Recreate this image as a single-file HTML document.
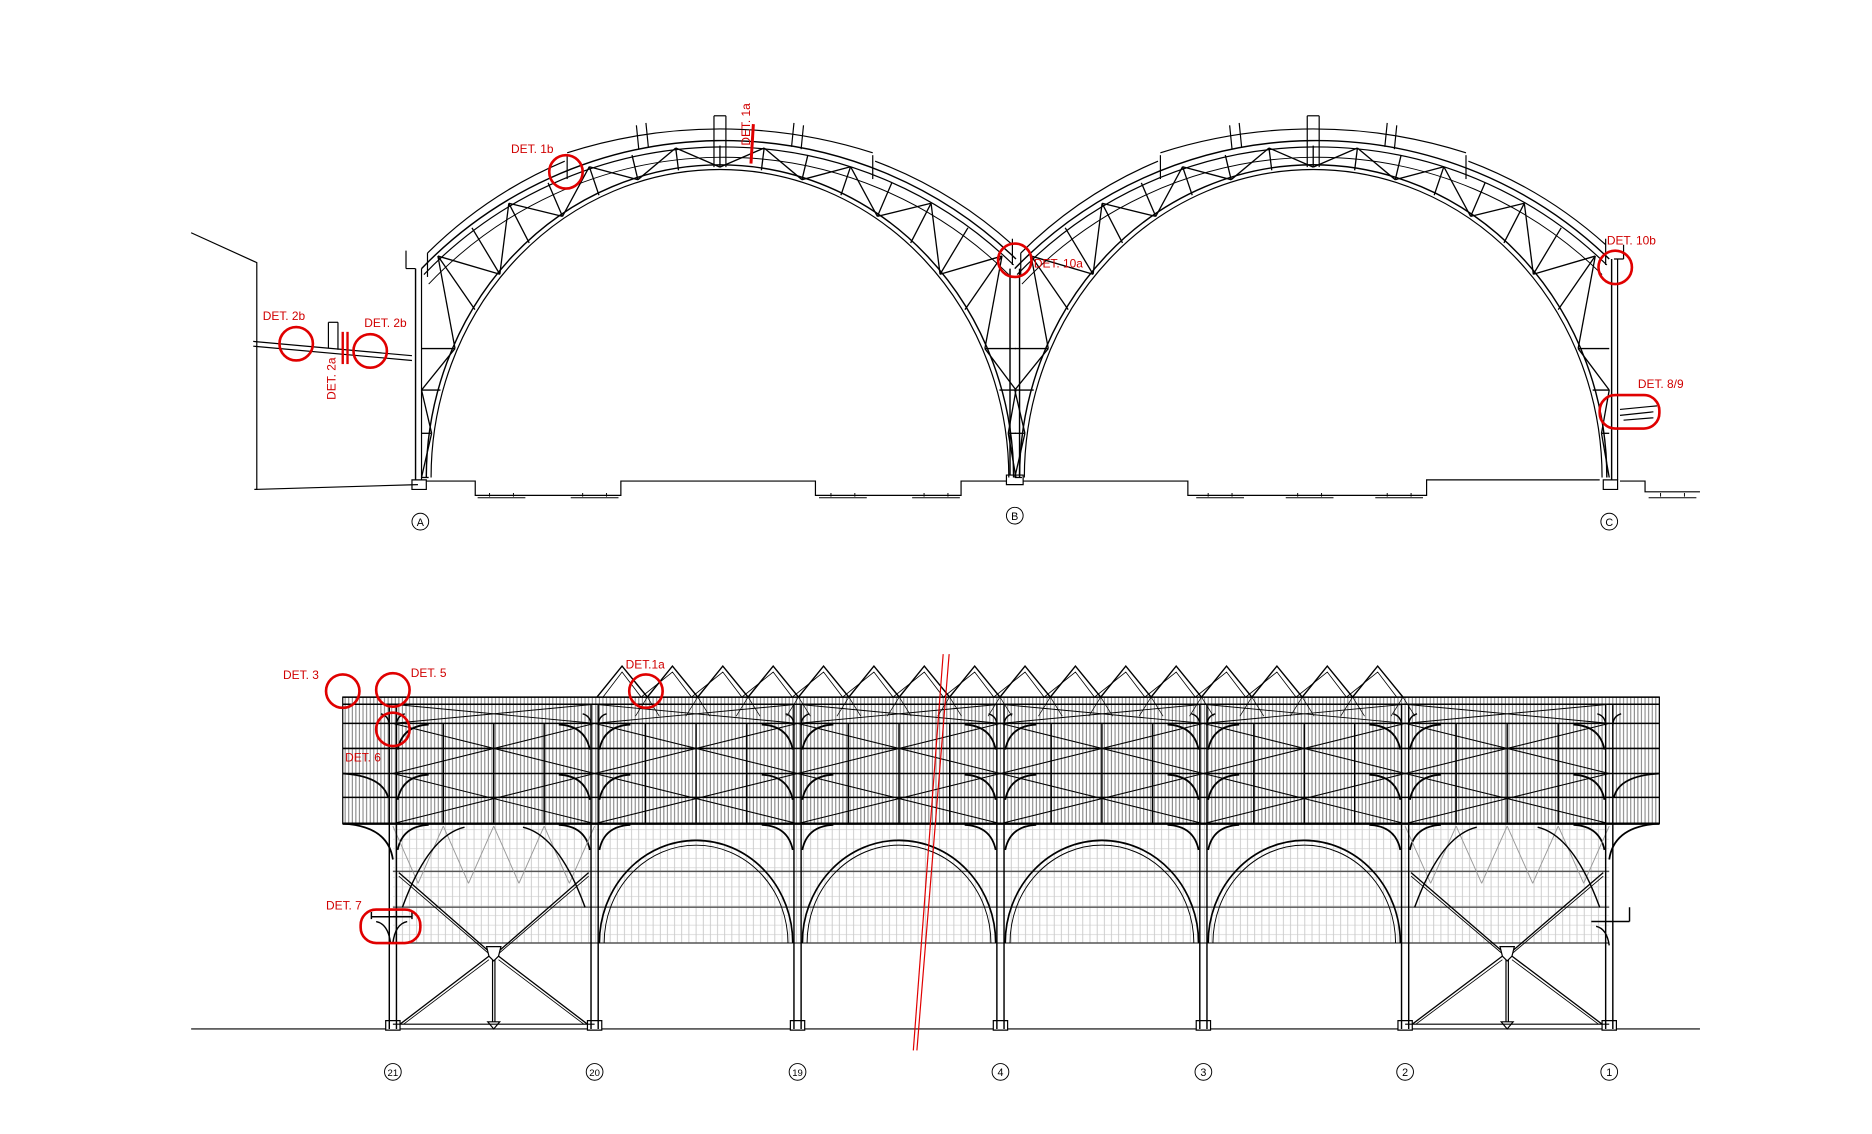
<!DOCTYPE html>
<html><head><meta charset="utf-8">
<style>
html,body{margin:0;padding:0;background:#fff;}
svg{display:block;}
text{font-family:"Liberation Sans",sans-serif;}
</style></head>
<body>
<svg id="s" width="1872" height="1134" viewBox="0 0 1568 950" xmlns="http://www.w3.org/2000/svg">
<defs>
<pattern id="hatch" width="3" height="10" patternUnits="userSpaceOnUse"><rect width="3" height="10" fill="#fff"/><line x1="1" y1="0" x2="1" y2="10" stroke="#777" stroke-width="0.8"/></pattern>
<pattern id="grid" width="6" height="8" patternUnits="userSpaceOnUse"><rect width="6" height="8" fill="#fff"/><line x1="1" y1="0" x2="1" y2="8" stroke="#bbb" stroke-width="0.6"/><line x1="0" y1="7" x2="6" y2="7" stroke="#ccc" stroke-width="0.5"/></pattern>
</defs>
<g id="g" fill="none" stroke="#000" stroke-width="1"></g>
<g id="r" fill="none" stroke="#e00000" stroke-width="2.2"></g>
<g font-size="10" fill="#d00000" stroke="none">
<text x="428" y="128">DET. 1b</text>
<text x="628" y="122" transform="rotate(-90 628 122)">DET. 1a</text>
<text x="866" y="224">DET. 10a</text>
<text x="1346" y="205">DET. 10b</text>
<text x="1372" y="325">DET. 8/9</text>
<text x="220" y="268">DET. 2b</text>
<text x="305" y="274">DET. 2b</text>
<text x="281" y="335" transform="rotate(-90 281 335)">DET. 2a</text>
<text x="237" y="569">DET. 3</text>
<text x="344" y="567">DET. 5</text>
<text x="289" y="638">DET. 6</text>
<text x="524" y="560">DET.1a</text>
<text x="273" y="762">DET. 7</text>
</g>
<g font-size="9" fill="#000" stroke="none" text-anchor="middle" id="lab"></g>
</svg>
<script>
var g=document.getElementById('g'),r=document.getElementById('r'),lab=document.getElementById('lab');
var NS='http://www.w3.org/2000/svg';
function el(p,t,a){var e=document.createElementNS(NS,t);for(var k in a)e.setAttribute(k,a[k]);p.appendChild(e);return e;}
function L(x1,y1,x2,y2,w,c){el(g,'line',{x1:x1,y1:y1,x2:x2,y2:y2,'stroke-width':w||1,stroke:c||'#000'});}
function P(d,w,c,f){el(g,'path',{d:d,'stroke-width':w||1,stroke:c||'#000',fill:f||'none'});}
function arch(ox){
 var cx=603+ox;
 P('M'+(cx-246)+',400 A246,262 0 0 1 '+(cx+246)+',400',1.2);
 P('M'+(cx-242)+',400 A242,258 0 0 1 '+(cx+242)+',400',1);
 P('M'+(cx-250)+',225 A352,352 0 0 1 '+(cx+248)+',217',1.2);
 P('M'+(cx-248)+',230 A348,348 0 0 1 '+(cx+246)+',222',1);
 P('M'+(cx-244)+',238 A340,340 0 0 1 '+(cx+242)+',230',0.8);
 P('M'+(cx-245)+',212 A362,362 0 0 1 '+(cx-130)+',135',1);
 P('M'+(cx+130)+',135 A362,362 0 0 1 '+(cx+245)+',205',1);
 L(cx-245,212,cx-245,232);L(cx+245,200,cx+245,222);
 L(cx-128,130,cx-128,150);L(cx+128,130,cx+128,150);
 P('M'+(cx-128)+',128 A420,420 0 0 1 '+(cx+128)+',128',1);
 L(cx-5,97,cx-5,140);L(cx+5,97,cx+5,140);L(cx-5,97,cx+5,97);
 L(cx-70,105,cx-68,125);L(cx-62,103,cx-60,123);
 L(cx+70,105,cx+68,125);L(cx+62,103,cx+60,123);
 var N=22,pts=[];
 for(var i=0;i<=N;i++){
  var th=Math.PI*(1-i/N);
  var ix=cx+244*Math.cos(th),iy=400-260*Math.sin(th);
  var ox2,oy2;
  var u=(th-Math.PI/6)/(Math.PI*2/3);
  if(u>1){ox2=cx-250;oy2=iy;}
  else if(u<0){ox2=cx+248;oy2=iy;}
  else{var ph=(45.2+89.6*u)*Math.PI/180;ox2=cx+348*Math.cos(ph);oy2=470-348*Math.sin(ph);}
  pts.push([ix,iy,ox2,oy2]);
 }
 for(var i=0;i<N;i++){
  var a=pts[i],b=pts[i+1];
  if(a[1]>385&&b[1]>385)continue;
  L(a[0],a[1],a[2],a[3],1.1);
  if(i%2==0)L(a[2],a[3],b[0],b[1],1.1);else L(a[0],a[1],b[2],b[3],1.1);
 }
}
arch(0);arch(497);
L(348,225,348,402,1.2);L(353,225,353,402,1);
L(1350,217,1350,402,1.2);L(1355,217,1355,402,1);
L(846,225,846,398,1.2);L(854,225,854,398,1.2);
P('M345,402 h12 v8 h-12z',1);P('M843,398 h14 v8 h-14z',1);P('M1343,402 h12 v8 h-12z',1);
P('M340,225 v-15 M340,225 h8');P('M1360,217 v-12 M1360,217 h-8');
P('M160,195 L215,220 L215,410 L213,410',1);
P('M213,410 L350,406',1);
P('M212,286 L345,298 M212,290 L345,302',1);
L(275,270,275,292);L(283,270,283,293);L(275,270,283,270);
P('M357,403 H398 V415 H520 V403 H683 V415 H805 V403 H843 M857,403 H995 V415 H1195 V402 H1340 M1357,403 H1378 V412 H1424',1);
[[400,440],[478,518],[686,726],[764,804],[1002,1042],[1077,1117],[1152,1192],[1381,1421]].forEach(function(p){P('M'+p[0]+',417 H'+p[1]+' M'+(p[0]+10)+',413 v3 M'+(p[1]-10)+',413 v3',0.8);});
P('M1357,343 L1388,340 M1357,348 L1385,345 M1360,352 L1385,350',1);
// ===== BOTTOM SECTION =====
var cols=[329,498,668,838,1008,1177,1348],names=['21','20','19','4','3','2','1'];
el(g,'rect',{x:287,y:584,width:1103,height:106,fill:'url(#hatch)',stroke:'#000','stroke-width':1});
el(g,'rect',{x:329,y:690,width:1019,height:100,fill:'url(#grid)',stroke:'none'});
[584,590,606,627,648,668,690].forEach(function(y){L(287,y,1390,y,y==690?2:1.3);});
[730,760,790].forEach(function(y){L(329,y,1348,y,1.2,'#555');});
for(var i=0;i<6;i++){var a=cols[i],b=cols[i+1];for(var k=1;k<4;k++){var x=a+(b-a)*k/4;L(x,606,x,690,1.2);}}
for(var i=0;i<6;i++){var a=cols[i],b=cols[i+1];
 L(a,606,b,648,0.9);L(a,648,b,606,0.9);L(a,648,b,690,0.9);L(a,690,b,648,0.9);
 L(a,590,b,606,0.8);L(a,606,b,590,0.8);
 [606,648,690].forEach(function(y){P('M'+(a+4)+','+(y+22)+' Q'+(a+8)+','+(y+2)+' '+(a+30)+','+(y+1),1.5);P('M'+(b-4)+','+(y+22)+' Q'+(b-8)+','+(y+2)+' '+(b-30)+','+(y+1),1.5);});
}
P('M287,690 Q325,692 329,720',1.5);P('M1390,690 Q1352,692 1348,720',1.5);
P('M287,648 Q320,650 325,668',1.5);P('M1390,648 Q1356,650 1352,668',1.5);
for(var i=1;i<5;i++){var a=cols[i],b=cols[i+1],c=(a+b)/2;
 P('M'+(a+4)+',790 A'+((b-a)/2-4)+',86 0 0 1 '+(b-4)+',790',1.4);
 P('M'+(a+8)+',790 A'+((b-a)/2-8)+',82 0 0 1 '+(b-8)+',790',0.8);
}
[[329,498],[1177,1348]].forEach(function(p){var a=p[0],b=p[1];
 for(var k=0;k<4;k++){var x=a+(b-a)*k/4;L(x,692,x+(b-a)/8,740,0.8,'#999');L(x+(b-a)/4,692,x+(b-a)/8,740,0.8,'#999');}
 P('M'+(a+8)+',760 Q'+(a+30)+',700 '+(a+60)+',693',1.2);P('M'+(b-8)+',760 Q'+(b-30)+',700 '+(b-60)+',693',1.2);
 var m=(a+b)/2,ny=797;
 // big X through node
 L(a+5,731,m-4,ny,1.1);L(a+5,734,m-4,ny+2,0.7);
 L(b-5,731,m+4,ny,1.1);L(b-5,734,m+4,ny+2,0.7);
 L(m-4,ny+4,a+6,858,1.1);L(m-4,ny+7,a+9,858,0.7);
 L(m+4,ny+4,b-6,858,1.1);L(m+4,ny+7,b-9,858,0.7);
 L(m-1,ny+6,m-1,856);L(m+1,ny+6,m+1,856);
 P('M'+(m-6)+','+(ny-4)+' h12 l-2,8 l-4,4 l-4,-4z',1,'#000','#fff');
 P('M'+(m-5)+',856 h10 l-5,6z',1);
 L(a,858,b,858,1);
});
cols.forEach(function(x,i){L(x-3,590,x-3,862,1.2);L(x+3,590,x+3,862,1.2);
 P('M'+(x-6)+',855 h12 v8 h-12z',1);
 P('M'+(x-10)+',598 Q'+(x-3)+',600 '+(x-3)+',608 M'+(x+10)+',598 Q'+(x+3)+',600 '+(x+3)+',608',1.2);
 el(lab,'circle',{cx:x,cy:898,r:7,fill:'none',stroke:'#000','stroke-width':0.8});
 el(lab,'text',{x:x,y:901.5,'font-size':names[i].length>1?8:9}).textContent=names[i];
});
P('M311,768 H345 M311,764 V770 M345,764 V770 M315,772 Q325,774 327,790 M341,772 Q331,774 329,790',1.2);
P('M1333,772 H1365 M1365,760 V772 M1337,776 Q1346,778 1348,792',1.2);
P('M160,862 H323 M335,862 H492 M504,862 H662 M674,862 H832 M844,862 H1002 M1014,862 H1171 M1183,862 H1342 M1354,862 H1424',1);
var zs='M500,584';for(var k=0;k<16;k++){var x0=500+k*42.2;zs+=' L'+(x0+21)+',558 L'+(x0+42.2)+',584';}
P(zs,1.2);
var zs2='M505,584';for(var k=0;k<16;k++){var x0=500+k*42.2;zs2+=' L'+(x0+21)+',563 L'+(x0+37)+',584';}
P(zs2,0.7);
for(var k=0;k<16;k++){var x0=500+k*42.2+42.2;L(x0,584,x0-10,600,0.6);L(x0,584,x0+10,600,0.6);}
el(r,'line',{x1:795,y1:548,x2:768,y2:880,'stroke-width':1});el(r,'line',{x1:790,y1:548,x2:765,y2:880,'stroke-width':1});
[[474,144],[850,218],[1353,224],[248,288],[310,294],[287,579],[329,578],[329,611],[541,579]].forEach(function(c){el(r,'circle',{cx:c[0],cy:c[1],r:14});});
el(r,'rect',{x:1340,y:331,width:50,height:28,rx:13});
el(r,'rect',{x:302,y:762,width:50,height:28,rx:13});
el(r,'line',{x1:631,y1:104,x2:629,y2:137,'stroke-width':2.5});
el(r,'line',{x1:287,y1:278,x2:287,y2:305,'stroke-width':2});el(r,'line',{x1:291,y1:278,x2:291,y2:305,'stroke-width':2});
[['A',352,437],['B',850,432],['C',1348,437]].forEach(function(a){el(lab,'circle',{cx:a[1],cy:a[2],r:7,fill:'none',stroke:'#000','stroke-width':0.8});el(lab,'text',{x:a[1],y:a[2]+3.5}).textContent=a[0];});
</script>
</body></html>
